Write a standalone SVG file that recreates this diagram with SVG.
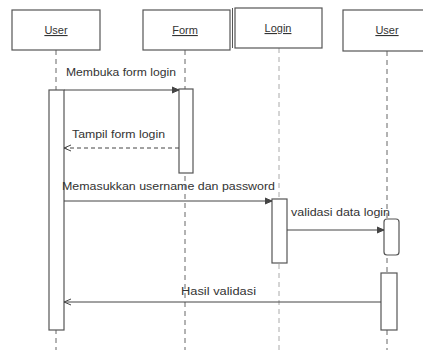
<svg xmlns="http://www.w3.org/2000/svg" width="423" height="350" viewBox="0 0 423 350">
<style>
.box{fill:#fff;stroke:#555;stroke-width:1.2}
.act{fill:#fff;stroke:#555;stroke-width:1.2}
.life{stroke:#666;stroke-width:1;stroke-dasharray:5,4;fill:none}
.msg{stroke:#444;stroke-width:1;fill:none}
.ret{stroke:#444;stroke-width:1;fill:none;stroke-dasharray:4,3}
.t{font-family:"Liberation Sans",Arial,sans-serif;font-size:10px;fill:#333}
.h{font-family:"Liberation Sans",Arial,sans-serif;font-size:11px;fill:#333;text-decoration:underline;text-anchor:middle}
</style>
<defs>
<marker id="arr" markerWidth="8" markerHeight="8" refX="7" refY="4" orient="auto" markerUnits="userSpaceOnUse">
<path d="M0,1 L7,4 L0,7" fill="none" stroke="#444" stroke-width="1"/>
</marker>
<marker id="fill" markerWidth="8" markerHeight="8" refX="7" refY="4" orient="auto" markerUnits="userSpaceOnUse">
<path d="M0,1 L7,4 L0,7 Z" fill="#444" stroke="#444" stroke-width="1"/>
</marker>
</defs>
<g id="lifelines">
<line class="life" x1="56" y1="50" x2="56" y2="350"/>
<line class="life" x1="185" y1="50" x2="185" y2="350"/>
<line class="life" x1="279" y1="48" x2="279" y2="350" style="stroke:#aaa"/>
<line class="life" x1="387" y1="51" x2="387" y2="350"/>
</g>
<g id="user1">
<rect class="box" x="12" y="10" width="88" height="40"/>
<text class="h" x="56" y="34">User</text>
</g>
<g id="form">
<rect class="box" x="143" y="10" width="87" height="40"/>
<text class="h" x="185" y="34">Form</text>
</g>
<g id="login">
<rect class="box" x="235" y="8" width="87" height="40"/>
<line x1="232.5" y1="8" x2="232.5" y2="48" stroke="#555" stroke-width="1"/>
<text class="h" x="278" y="32">Login</text>
</g>
<g id="user2">
<rect class="box" x="343" y="10" width="84" height="41"/>
<text class="h" x="387" y="34">User</text>
</g>
<g id="activations">
<rect class="act" x="49" y="90" width="15" height="240"/>
<rect class="act" x="179" y="89" width="14" height="84"/>
<rect class="act" x="272" y="199" width="15" height="64"/>
<rect class="act" x="384" y="219" width="15" height="36" rx="3"/>
<rect class="act" x="381" y="273" width="16" height="57"/>
</g>
<g id="connectors">
<line class="msg" x1="64" y1="90" x2="179" y2="90" marker-end="url(#fill)"/>
<text class="t" x="66" y="76" textLength="110" lengthAdjust="spacingAndGlyphs">Membuka form login</text>
<line class="ret" x1="179" y1="148" x2="64" y2="148" marker-end="url(#arr)"/>
<text class="t" x="72" y="138" textLength="93" lengthAdjust="spacingAndGlyphs">Tampil form login</text>
<line class="msg" x1="64" y1="201" x2="272" y2="201" marker-end="url(#fill)"/>
<text class="t" x="62" y="190" textLength="213" lengthAdjust="spacingAndGlyphs">Memasukkan username dan password</text>
<line class="msg" x1="287" y1="230" x2="384" y2="230" marker-end="url(#fill)"/>
<text class="t" x="291" y="216" textLength="99" lengthAdjust="spacingAndGlyphs">validasi data login</text>
<line class="msg" x1="381" y1="302" x2="64" y2="302" marker-end="url(#arr)"/>
<text class="t" x="181" y="295" textLength="75" lengthAdjust="spacingAndGlyphs">Hasil validasi</text>
</g>
</svg>
